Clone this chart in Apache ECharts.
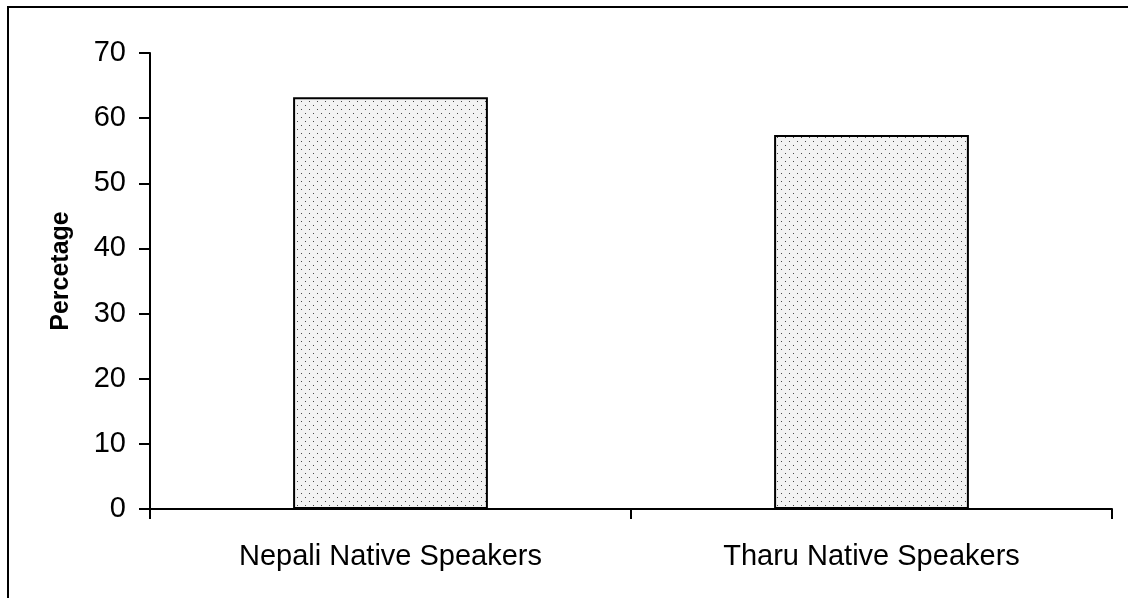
<!DOCTYPE html>
<html lang="en" style="height: 100%">
<head>
    <meta charset="utf-8">
    <title>Percetage</title>
    <style>
        body { margin: 0; background: #fff; }
        #frame {
            position: absolute;
            left: 7px;
            top: 6px;
            width: 1130px;
            height: 600px;
            border-left: 2px solid #000;
            border-top: 2px solid #000;
            box-sizing: border-box;
            pointer-events: none;
        }
        #container { width: 1128px; height: 598px; }
    </style>
</head>
<body>
    <div id="container"></div>
    <div id="frame"></div>

    <script src="https://cdn.jsdelivr.net/npm/echarts@6/dist/echarts.min.js"></script>
    <script>
        // data
        const categories = ['Nepali Native Speakers', 'Tharu Native Speakers'];
        const values = [63.2, 57.4];
        const yTicks = [0, 10, 20, 30, 40, 50, 60, 70];

        // dotted fill like the old excel pattern
        function dotPattern() {
            const c = document.createElement('canvas');
            c.width = 8;
            c.height = 8;
            const ctx = c.getContext('2d');
            ctx.fillStyle = '#f3f3f3';
            ctx.fillRect(0, 0, 8, 8);
            ctx.fillStyle = '#4a4a4a';
            ctx.fillRect(1, 1, 1, 1);
            ctx.fillRect(5, 5, 1, 1);
            return c;
        }

        const chart = echarts.init(document.getElementById('container'));
        const font = '"Liberation Sans", Arial, sans-serif';

        chart.setOption({
            animation: false,
            grid: {
                left: 150,
                right: 16,
                top: 53,
                bottom: 89
            },
            xAxis: {
                type: 'category',
                data: categories,
                axisLine: { lineStyle: { color: '#000', width: 2 } },
                axisTick: { show: true, length: 10, lineStyle: { color: '#000', width: 2 } },
                axisLabel: {
                    color: '#000',
                    fontFamily: font,
                    fontSize: 29,
                    margin: 33
                },
                splitLine: { show: false }
            },
            yAxis: {
                type: 'value',
                min: yTicks[0],
                max: yTicks[yTicks.length - 1],
                interval: 10,
                name: 'Percetage',
                nameLocation: 'middle',
                nameGap: 76,
                nameTextStyle: {
                    color: '#000',
                    fontFamily: font,
                    fontSize: 25,
                    fontWeight: 'bold',
                    padding: [0, 0, 0, 20]
                },
                axisLine: { show: true, lineStyle: { color: '#000', width: 2 } },
                axisTick: { show: true, length: 11, lineStyle: { color: '#000', width: 2 } },
                axisLabel: {
                    color: '#000',
                    fontFamily: font,
                    fontSize: 29,
                    margin: 24
                },
                splitLine: { show: false }
            },
            series: [
                {
                    type: 'bar',
                    data: values,
                    barWidth: '40.5%',
                    itemStyle: {
                        color: { image: dotPattern(), repeat: 'repeat' },
                        borderColor: '#000',
                        borderWidth: 2
                    }
                }
            ]
        });
    </script>
</body>
</html>
